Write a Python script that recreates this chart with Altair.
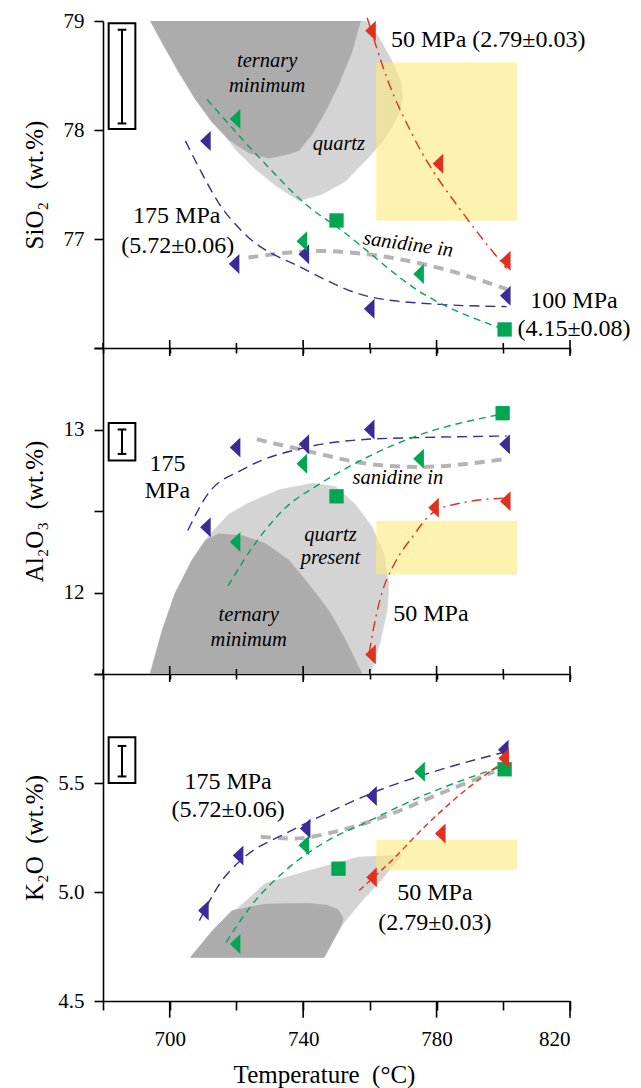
import altair as alt
import pandas as pd

FONT = "Liberation Serif"
BLUE = "#3a2b96"
GREEN = "#00a651"
RED = "#e2301f"
LIGHT = "#d4d4d4"
DARK = "#acacac"
SANID = "#b4b4b4"
YELLOW = "#fbe97a"

W = 467
HEIGHTS = [327, 326, 327]
X_TICKS = [680, 700, 720, 740, 760, 780, 800, 820]
X_MAJOR = [700, 740, 780, 820]
X_MINOR = [680, 720, 760, 800]
TRI = "M 0.53 -1 L 0.53 1 L -0.53 0 Z"

# ---------------- SiO2 panel ----------------
sio2_blue_T = [710.7, 719.3, 740.2, 759.8, 800.6]
sio2_blue_v = [77.90, 76.77, 76.86, 76.36, 76.48]
sio2_gtri_T = [719.6, 739.6, 774.6]
sio2_gtri_v = [78.10, 76.98, 76.68]
sio2_gsq_T = [750.0, 800.4]
sio2_gsq_v = [77.17, 76.17]
sio2_red_T = [760.2, 780.4, 800.6]
sio2_red_v = [78.91, 77.69, 76.80]

sio2_blue_fit_T = [704.7, 709.7, 714.7, 722.4, 740.0, 760.0, 781.0, 801.0]
sio2_blue_fit_v = [77.90, 77.60, 77.33, 77.05, 76.73, 76.47, 76.40, 76.38]
sio2_green_fit_T = [711.2, 727.7, 740.7, 750.6, 776.4, 800.4]
sio2_green_fit_v = [78.28, 77.72, 77.32, 77.10, 76.49, 76.17]
sio2_red_fit_T = [759.2, 765.2, 773.2, 789.3, 801.0]
sio2_red_fit_v = [79.03, 78.47, 77.93, 77.18, 76.73]
sio2_san_T = [723.6, 744.5, 759.2, 781.3, 801.0]
sio2_san_v = [76.83, 76.89, 76.86, 76.73, 76.54]

sio2_light_T = [694.2, 759.0, 762.7, 766.7, 769.2, 769.9, 768.7, 764.7, 759.7, 752.7,
                745.7, 738.7, 731.7, 725.7, 719.7, 713.7, 707.7, 701.7]
sio2_light_v = [79.0, 79.0, 78.85, 78.63, 78.45, 78.30, 78.14, 77.93, 77.75, 77.53,
                77.41, 77.35, 77.49, 77.64, 77.82, 78.07, 78.34, 78.68]
sio2_dark_T = [694.2, 757.2, 754.7, 750.7, 746.7, 742.7, 738.7, 735.7, 729.7, 723.7,
               717.7, 712.7, 707.7, 702.7, 697.7]
sio2_dark_v = [79.0, 79.0, 78.72, 78.42, 78.17, 77.96, 77.81, 77.78, 77.74, 77.79,
               77.91, 78.07, 78.28, 78.53, 78.80]
sio2_yellow = [761.9, 804.1, 77.17, 78.62]
sio2_errbox = [681.7, 689.7, 78.01, 78.98]
sio2_errbar = [685.7, 684.4, 687.0, 78.06, 78.92]

sio2_txt_T = [795.5, 702.1, 702.4, 821.2, 821.2]
sio2_txt_v = [78.83, 77.21, 76.94, 76.43, 76.17]
sio2_txt_s = ["50 MPa (2.79±0.03)", "175 MPa", "(5.72±0.06)", "100 MPa", "(4.15±0.08)"]
sio2_it_T = [729.2, 729.2, 750.7]
sio2_it_v = [78.63, 78.40, 77.87]
sio2_it_s = ["ternary", "minimum", "quartz"]
sio2_rot_T = [771.5]
sio2_rot_v = [76.95]
sio2_rot_s = ["sanidine in"]

# ---------------- Al2O3 panel ----------------
al_blue_T = [710.7, 719.6, 740.2, 759.8, 800.4]
al_blue_v = [12.40, 12.89, 12.91, 13.00, 12.91]
al_gtri_T = [719.6, 739.6, 774.6]
al_gtri_v = [12.31, 12.79, 12.82]
al_gsq_T = [750.0, 799.8]
al_gsq_v = [12.59, 13.10]
al_red_T = [760.2, 779.1, 800.6]
al_red_v = [11.62, 12.52, 12.56]

al_blue_fit_T = [705.4, 711.3, 722.4, 740.8, 759.2, 774.0, 801.0]
al_blue_fit_v = [12.38, 12.60, 12.76, 12.89, 12.94, 12.95, 12.96]
al_green_fit_T = [717.5, 724.9, 734.7, 744.5, 759.2, 774.0, 798.5]
al_green_fit_v = [12.04, 12.28, 12.52, 12.66, 12.83, 12.96, 13.09]
al_red_fit_T = [759.8, 761.0, 763.5, 767.2, 772.7, 778.9, 787.5, 801.0]
al_red_fit_v = [11.63, 11.77, 11.99, 12.17, 12.34, 12.49, 12.55, 12.58]
al_san_T = [726.1, 740.8, 759.2, 774.0, 801.0]
al_san_v = [12.94, 12.87, 12.79, 12.77, 12.82]

al_light_T = [694.1, 697.8, 701.5, 706.7, 711.7, 717.7, 723.7, 732.7, 742.7, 749.7,
              755.7, 760.7, 764.2, 765.7, 765.2, 763.0, 760.2]
al_light_v = [11.50, 11.77, 11.99, 12.20, 12.35, 12.48, 12.55, 12.63, 12.67, 12.65,
              12.54, 12.40, 12.24, 12.05, 11.89, 11.69, 11.50]
al_dark_T = [694.1, 697.8, 701.5, 706.7, 710.7, 714.7, 721.7, 728.7, 735.7, 741.7,
             747.7, 752.7, 757.7]
al_dark_v = [11.50, 11.77, 11.99, 12.20, 12.32, 12.36, 12.35, 12.30, 12.20, 12.05,
             11.89, 11.71, 11.50]
al_yellow = [761.9, 804.1, 12.11, 12.44]
al_errbox = [681.7, 689.7, 12.81, 13.04]
al_errbar = [685.7, 684.4, 687.0, 12.85, 13.00]

al_txt_T = [699.3, 699.3, 778.3]
al_txt_v = [12.79, 12.62, 11.87]
al_txt_s = ["175", "MPa", "50 MPa"]
al_it_T = [768.4, 748.2, 748.2, 723.7, 723.7]
al_it_v = [12.70, 12.35, 12.21, 11.86, 11.71]
al_it_s = ["sanidine in", "quartz", "present", "ternary", "minimum"]

# ---------------- K2O panel ----------------
k_blue_T = [710.1, 720.5, 740.6, 760.5, 800.0]
k_blue_v = [4.915, 5.168, 5.291, 5.440, 5.652]
k_gtri_T = [719.6, 740.2, 774.9]
k_gtri_v = [4.761, 5.214, 5.552]
k_gsq_T = [750.6, 800.4]
k_gsq_v = [5.107, 5.563]
k_red_T = [760.5, 781.1, 800.1]
k_red_v = [5.068, 5.268, 5.614]

k_blue_fit_T = [708.9, 715.0, 722.4, 734.7, 747.0, 760.5, 777.7, 801.0]
k_blue_fit_v = [4.869, 5.038, 5.160, 5.268, 5.360, 5.453, 5.545, 5.644]
k_green_fit_T = [716.9, 724.9, 734.7, 745.8, 759.2, 775.2, 801.0]
k_green_fit_v = [4.769, 4.946, 5.099, 5.222, 5.322, 5.437, 5.583]
k_red_fit_T = [756.8, 766.6, 776.4, 787.5, 801.0]
k_red_fit_v = [5.007, 5.145, 5.299, 5.453, 5.606]
k_san_T = [727.3, 737.1, 749.4, 764.1, 781.3, 797.3]
k_san_v = [5.253, 5.245, 5.276, 5.345, 5.453, 5.552]

k_light_T = [706.2, 713.7, 720.7, 728.7, 742.0, 756.6, 769.6, 764.1, 756.7, 751.8, 746.3]
k_light_v = [4.70, 4.84, 4.93, 5.04, 5.10, 5.16, 5.17, 5.066, 4.943, 4.85, 4.70]
k_dark_T = [706.2, 712.7, 718.7, 728.7, 741.7, 747.0, 750.5, 752.0, 751.5, 746.3]
k_dark_v = [4.70, 4.82, 4.915, 4.945, 4.948, 4.94, 4.92, 4.88, 4.85, 4.70]
k_yellow = [761.9, 804.1, 5.10, 5.24]
k_errbox = [681.7, 689.7, 5.50, 5.71]
k_errbar = [685.7, 684.4, 687.0, 5.53, 5.67]

k_txt_T = [717.5, 717.5, 779.5, 779.5]
k_txt_v = [5.506, 5.375, 4.997, 4.858]
k_txt_s = ["175 MPa", "(5.72±0.06)", "50 MPa", "(2.79±0.03)"]


def build_panel(h, last, ydom, yticks, ylabexpr, yfmt, ytitle, d):
    xs = alt.Scale(domain=[680, 820], nice=False, zero=False)
    ys = alt.Scale(domain=ydom, nice=False, zero=False)
    common = dict(domainColor="black", domainWidth=1.6, tickColor="black",
                  tickWidth=1.6, grid=False, labelOverlap=False)
    if last:
        xaxis = alt.Axis(values=X_TICKS,
                         labelExpr="datum.value % 40 == 20 ? datum.label : ''",
                         tickSize=9, labelPadding=18, labelFontSize=21,
                         labelFont=FONT, labelColor="black",
                         title="Temperature\u00a0\u00a0(°C)", titleFont=FONT,
                         titleFontSize=25, titleFontWeight="normal",
                         titleColor="black", titleX=221, titleY=81,
                         titleBaseline="alphabetic", titleAlign="center",
                         **common)
    else:
        xaxis = alt.Axis(values=X_TICKS, labels=False, tickSize=5, title=None,
                         **common)
    yaxis = alt.Axis(values=yticks, labelExpr=ylabexpr, format=yfmt,
                     tickSize=9, labelPadding=10, labelFontSize=21,
                     labelFont=FONT, labelColor="black", title=ytitle,
                     titleFont=FONT, titleFontSize=25, titleFontWeight="normal",
                     titleColor="black", titleX=-69, titleY=h / 2,
                     titleAngle=270, titleBaseline="middle",
                     titleAlign="center", **common)

    def X(f):
        return alt.X(f"{f}:Q", scale=xs, axis=xaxis)

    def Y(f):
        return alt.Y(f"{f}:Q", scale=ys, axis=yaxis)

    layers = []

    def poly(T, v, color):
        df = pd.DataFrame({"T": T, "v": v, "i": list(range(len(T)))})
        return alt.Chart(df).mark_line(
            fill=color, stroke=color, strokeWidth=0.5,
            interpolate="linear-closed", clip=True
        ).encode(x=X("T"), y=Y("v"), order="i:Q")

    layers.append(poly(d["light"][0], d["light"][1], LIGHT))
    layers.append(poly(d["dark"][0], d["dark"][1], DARK))

    yb = d["yellow"]
    ydf = pd.DataFrame({"x1": [yb[0]], "x2": [yb[1]], "y1": [yb[2]], "y2": [yb[3]]})
    layers.append(alt.Chart(ydf).mark_rect(color=YELLOW, opacity=0.6).encode(
        x=X("x1"), x2="x2", y=Y("y1"), y2="y2"))

    eb = d["errbox"]
    edf = pd.DataFrame({"x1": [eb[0]], "x2": [eb[1]], "y1": [eb[2]], "y2": [eb[3]]})
    layers.append(alt.Chart(edf).mark_rect(fill="white", stroke="black",
                                           strokeWidth=2).encode(
        x=X("x1"), x2="x2", y=Y("y1"), y2="y2"))
    er = d["errbar"]
    vdf = pd.DataFrame({"T": [er[0]], "lo": [er[3]], "hi": [er[4]]})
    layers.append(alt.Chart(vdf).mark_rule(color="black", strokeWidth=2).encode(
        x=X("T"), y=Y("lo"), y2="hi"))
    cdf = pd.DataFrame({"a": [er[1], er[1]], "b": [er[2], er[2]], "v": [er[3], er[4]]})
    layers.append(alt.Chart(cdf).mark_rule(color="black", strokeWidth=2).encode(
        x=X("a"), x2="b", y=Y("v")))

    def curve(T, v, color, dash, width=1.4):
        df = pd.DataFrame({"T": T, "v": v})
        return alt.Chart(df).mark_line(color=color, strokeDash=dash,
                                       strokeWidth=width,
                                       interpolate="monotone").encode(
            x=X("T"), y=Y("v"))

    layers.append(curve(d["san"][0], d["san"][1], SANID, [10, 7], 4))
    layers.append(curve(d["bfit"][0], d["bfit"][1], BLUE, [10, 6]))
    layers.append(curve(d["gfit"][0], d["gfit"][1], GREEN, [7, 5]))
    layers.append(curve(d["rfit"][0], d["rfit"][1], RED, d["rdash"]))

    def pts(T, v, color, shape, size):
        df = pd.DataFrame({"T": T, "v": v})
        return alt.Chart(df).mark_point(shape=shape, size=size, filled=True,
                                        color=color, opacity=1,
                                        strokeWidth=0).encode(
            x=X("T"), y=Y("v"))

    layers.append(pts(d["blue"][0], d["blue"][1], BLUE, TRI, 400))
    layers.append(pts(d["gtri"][0], d["gtri"][1], GREEN, TRI, 400))
    layers.append(pts(d["gsq"][0], d["gsq"][1], GREEN, "square", 205))
    layers.append(pts(d["red"][0], d["red"][1], RED, TRI, 400))

    def texts(T, v, s, size, italic=False, angle=0):
        df = pd.DataFrame({"T": T, "v": v, "s": s})
        return alt.Chart(df).mark_text(font=FONT, fontSize=size,
                                       fontStyle="italic" if italic else "normal",
                                       align="center", baseline="middle",
                                       color="black", angle=angle).encode(
            x=X("T"), y=Y("v"), text="s:N")

    layers.append(texts(*d["txt"], 24))
    if "it" in d:
        layers.append(texts(*d["it"], 20.5, italic=True))
    if "rot" in d:
        layers.append(texts(*d["rot"], 20.5, italic=True, angle=8))

    maj = pd.DataFrame({"T": X_MAJOR})
    mnr = pd.DataFrame({"T": X_MINOR})
    if last:
        layers.append(alt.Chart(maj).mark_rule(color="black", strokeWidth=1.6).encode(
            x=X("T"), y=alt.value(h), y2=alt.value(h + 16.7)))
    else:
        layers.append(alt.Chart(maj).mark_rule(color="black", strokeWidth=1.6).encode(
            x=X("T"), y=alt.value(h - 8), y2=alt.value(h + 8)))
        layers.append(alt.Chart(mnr).mark_rule(color="black", strokeWidth=1.6).encode(
            x=X("T"), y=alt.value(h - 5), y2=alt.value(h)))

    return alt.layer(*layers).properties(width=W, height=h)


p1 = build_panel(
    HEIGHTS[0], False, [76, 79], [76, 77, 78, 79],
    "datum.value == 76 ? '' : datum.label", "d", "SiO\u2082\u00a0\u00a0(wt.%)",
    dict(light=(sio2_light_T, sio2_light_v), dark=(sio2_dark_T, sio2_dark_v),
         yellow=sio2_yellow, errbox=sio2_errbox, errbar=sio2_errbar,
         san=(sio2_san_T, sio2_san_v), bfit=(sio2_blue_fit_T, sio2_blue_fit_v),
         gfit=(sio2_green_fit_T, sio2_green_fit_v),
         rfit=(sio2_red_fit_T, sio2_red_fit_v), rdash=[10, 5, 2, 5],
         blue=(sio2_blue_T, sio2_blue_v), gtri=(sio2_gtri_T, sio2_gtri_v),
         gsq=(sio2_gsq_T, sio2_gsq_v), red=(sio2_red_T, sio2_red_v),
         txt=(sio2_txt_T, sio2_txt_v, sio2_txt_s),
         it=(sio2_it_T, sio2_it_v, sio2_it_s),
         rot=(sio2_rot_T, sio2_rot_v, sio2_rot_s)))

p2 = build_panel(
    HEIGHTS[1], False, [11.5, 13.5], [11.5, 12, 12.5, 13, 13.5],
    "(datum.value == 12 || datum.value == 13) ? datum.label : ''", ".0f",
    "Al\u2082O\u2083\u00a0\u00a0(wt.%)",
    dict(light=(al_light_T, al_light_v), dark=(al_dark_T, al_dark_v),
         yellow=al_yellow, errbox=al_errbox, errbar=al_errbar,
         san=(al_san_T, al_san_v), bfit=(al_blue_fit_T, al_blue_fit_v),
         gfit=(al_green_fit_T, al_green_fit_v),
         rfit=(al_red_fit_T, al_red_fit_v), rdash=[10, 5, 2, 5],
         blue=(al_blue_T, al_blue_v), gtri=(al_gtri_T, al_gtri_v),
         gsq=(al_gsq_T, al_gsq_v), red=(al_red_T, al_red_v),
         txt=(al_txt_T, al_txt_v, al_txt_s),
         it=(al_it_T, al_it_v, al_it_s)))

p3 = build_panel(
    HEIGHTS[2], True, [4.5, 6.0], [4.5, 5.0, 5.5, 6.0],
    "datum.value == 6 ? '' : datum.label", ".1f", "K\u2082O\u00a0\u00a0(wt.%)",
    dict(light=(k_light_T, k_light_v), dark=(k_dark_T, k_dark_v),
         yellow=k_yellow, errbox=k_errbox, errbar=k_errbar,
         san=(k_san_T, k_san_v), bfit=(k_blue_fit_T, k_blue_fit_v),
         gfit=(k_green_fit_T, k_green_fit_v),
         rfit=(k_red_fit_T, k_red_fit_v), rdash=[6, 4],
         blue=(k_blue_T, k_blue_v), gtri=(k_gtri_T, k_gtri_v),
         gsq=(k_gsq_T, k_gsq_v), red=(k_red_T, k_red_v),
         txt=(k_txt_T, k_txt_v, k_txt_s)))

chart = alt.vconcat(p1, p2, p3, spacing=0, bounds="flush").properties(
    padding={"left": 22, "top": 10, "right": 5, "bottom": 5}
).configure_view(stroke=None).configure_axis(grid=False)

chart.save("out.html", embed_options={"renderer": "svg", "actions": False})
